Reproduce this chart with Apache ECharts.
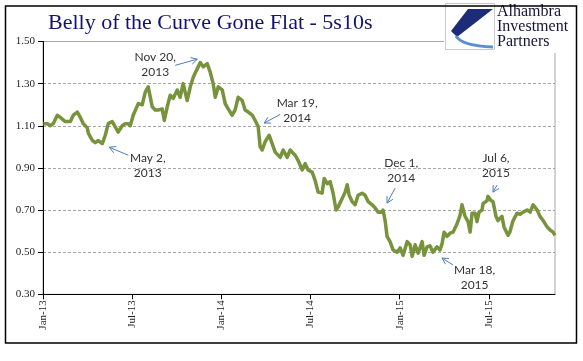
<!DOCTYPE html>
<html>
<head>
<meta charset="utf-8">
<script src="https://cdn.jsdelivr.net/npm/echarts@6/dist/echarts.min.js"></script>
<style>
html,body{margin:0;padding:0;background:#fff;}
#c{width:583px;height:361px;}
</style>
</head>
<body>
<div id="c"></div>
<script>
// x positions: months elapsed since 1 Jan 2013 (fractional)
const monthPos = [0.02,0.29,0.49,0.69,0.96,1.16,1.50,1.84,2.04,2.31,2.51,2.71,2.98,3.05,3.32,3.52,3.72,3.99,4.19,4.39,4.66,4.86,5.06,5.33,5.53,5.73,5.87,6.07,6.41,6.68,6.88,7.08,7.35,7.55,7.75,8.02,8.16,8.36,8.56,8.76,9.03,9.23,9.43,9.70,9.91,10.11,10.24,10.38,10.58,10.78,11.05,11.25,11.45,11.59,11.79,12.06,12.26,12.46,12.73,12.93,13.13,13.40,13.60,13.81,14.08,14.28,14.48,14.61,14.75,14.95,15.22,15.42,15.62,15.96,16.16,16.43,16.63,16.83,16.97,17.17,17.44,17.64,17.84,18.11,18.31,18.51,18.78,18.92,19.12,19.32,19.52,19.72,19.86,20.13,20.33,20.47,20.60,20.80,21.00,21.20,21.47,21.67,21.88,22.15,22.35,22.55,22.82,22.88,23.02,23.15,23.35,23.56,23.83,24.03,24.23,24.50,24.70,24.84,25.04,25.24,25.51,25.64,25.84,26.04,26.24,26.51,26.71,26.85,26.99,27.19,27.39,27.59,27.86,28.06,28.19,28.40,28.60,28.74,28.87,29.07,29.20,29.34,29.54,29.61,29.88,29.94,30.14,30.28,30.48,30.61,30.88,31.02,31.29,31.41,31.63,31.90,32.10,32.30,32.58,32.78,32.98,33.25,33.44,33.65,33.92,34.12,34.32,34.45];
// 5s10s spread values
const spread = [1.11,1.11,1.10,1.11,1.15,1.14,1.12,1.12,1.15,1.165,1.14,1.11,1.09,1.065,1.03,1.02,1.03,1.015,1.055,1.11,1.12,1.095,1.07,1.10,1.11,1.11,1.10,1.15,1.205,1.20,1.26,1.285,1.19,1.175,1.175,1.18,1.125,1.19,1.245,1.23,1.27,1.235,1.30,1.22,1.285,1.33,1.35,1.37,1.40,1.38,1.395,1.355,1.30,1.235,1.285,1.27,1.205,1.18,1.15,1.175,1.235,1.22,1.175,1.165,1.15,1.125,1.095,1.00,0.985,1.025,1.055,1.015,0.975,0.95,0.985,0.95,0.985,0.97,0.96,0.935,0.89,0.92,0.89,0.88,0.84,0.785,0.78,0.85,0.825,0.835,0.78,0.70,0.715,0.755,0.785,0.82,0.77,0.74,0.725,0.77,0.78,0.77,0.74,0.725,0.71,0.69,0.69,0.70,0.65,0.575,0.55,0.51,0.50,0.52,0.485,0.55,0.535,0.48,0.535,0.495,0.55,0.485,0.525,0.53,0.50,0.525,0.51,0.54,0.595,0.575,0.59,0.595,0.635,0.675,0.725,0.67,0.645,0.595,0.685,0.685,0.645,0.69,0.70,0.73,0.745,0.765,0.745,0.74,0.67,0.65,0.67,0.62,0.58,0.595,0.65,0.685,0.68,0.69,0.70,0.69,0.725,0.70,0.67,0.65,0.62,0.605,0.595,0.58];

const xTickPos = [0, 6, 12, 18, 24, 30];
const xTickLabels = ['Jan-13', 'Jul-13', 'Jan-14', 'Jul-14', 'Jan-15', 'Jul-15'];
const yTicks = [0.30, 0.50, 0.70, 0.90, 1.10, 1.30, 1.50];

const titleText = 'Belly of the Curve Gone Flat - 5s10s';
const logoLines = ['Alhambra', 'Investment', 'Partners'];

// annotations: text centre and arrow (from -> to) in data coordinates [month, value]
const annoText = ['Nov 20,\n2013', 'May 2,\n2013', 'Mar 19,\n2014', 'Dec 1,\n2014', 'Jul 6,\n2015', 'Mar 18,\n2015'];
const annoTextPos = [[7.55, 1.389], [7.05, 0.913], [17.10, 1.171], [24.10, 0.887], [30.48, 0.910], [29.04, 0.377]];
const annoArrowFrom = [[8.90, 1.387], [5.74, 0.960], [15.96, 1.154], [23.69, 0.804], [30.55, 0.818], [27.59, 0.439]];
const annoArrowTo = [[10.38, 1.416], [4.46, 0.998], [14.88, 1.113], [23.15, 0.733], [30.28, 0.785], [26.85, 0.472]];

const chart = echarts.init(document.getElementById('c'), null, {renderer: 'canvas'});
const seriesData = monthPos.map((m, i) => [m, spread[i]]);
const serif = '"Liberation Serif", "DejaVu Serif", serif';

chart.setOption({
  animation: false,
  backgroundColor: '#ffffff',
  grid: {left: 43, right: 28, top: 41.5, bottom: 66.7, show: true, borderColor: '#a6a6a6', borderWidth: 1},
  xAxis: {
    type: 'value', min: 0, max: 34.45,
    axisLine: {show: true, onZero: false, lineStyle: {color: '#000', width: 1}},
    axisTick: {show: true, length: 5, customValues: xTickPos, lineStyle: {color: '#000'}},
    splitLine: {show: false},
    axisLabel: {
      customValues: xTickPos, rotate: 90, margin: 6,
      fontFamily: serif, fontSize: 11, color: '#222',
      formatter: v => { const i = xTickPos.indexOf(Math.round(v)); return i >= 0 ? xTickLabels[i] : ''; }
    }
  },
  yAxis: {
    type: 'value', min: 0.3, max: 1.5,
    axisLine: {show: true, lineStyle: {color: '#000', width: 1}},
    axisTick: {show: true, length: 5, customValues: yTicks, lineStyle: {color: '#000'}},
    splitLine: {show: true, lineStyle: {color: '#a6a6a6', type: [3, 2], width: 1}},
    interval: 0.2,
    axisLabel: {
      customValues: yTicks, margin: 8, fontFamily: serif, fontSize: 11, color: '#222',
      formatter: v => v.toFixed(2)
    }
  },
  series: [{
    type: 'line', data: seriesData, showSymbol: false, symbol: 'none',
    lineStyle: {color: '#77933c', width: 3.5, join: 'round'}
  }]
});

// graphics: title, logo, annotations, outer frame
const g = [];
g.push({type: 'rect', shape: {x: 5.5, y: 6, width: 571, height: 337}, style: {fill: null, stroke: '#000', lineWidth: 1.5}, z: 100, silent: true});
g.push({type: 'text', left: 48, top: 12, style: {text: titleText, font: '22px ' + serif, fill: '#14146e'}, z: 100});

// logo box
g.push({type: 'rect', shape: {x: 444, y: 1, width: 134, height: 52}, style: {fill: '#fff', stroke: null}, z: 90});
g.push({type: 'rect', shape: {x: 445.5, y: 3.5, width: 49, height: 46}, style: {fill: '#fff', stroke: '#c8c8c8', lineWidth: 1}, z: 91});
g.push({type: 'polygon', shape: {points: [[468, 9], [493, 9], [457, 37], [451, 31]]}, style: {fill: '#1c2c78'}, z: 92});
g.push({type: 'bezierCurve', shape: {x1: 456, y1: 36, x2: 493, y2: 47, cpx1: 462, cpy1: 46}, style: {stroke: '#5b8fd0', lineWidth: 3, fill: null}, z: 92});
logoLines.forEach((t, i) => {
  g.push({type: 'text', left: 497, top: 4 + i * 15, style: {text: t, font: '16px ' + serif, fill: '#14143c'}, z: 93});
});

function px(p) { return chart.convertToPixel({gridIndex: 0}, p); }
annoText.forEach((t, i) => {
  const c = px(annoTextPos[i]);
  g.push({type: 'text', x: c[0], y: c[1], style: {text: t, font: '12px Lato, "Open Sans", sans-serif', fill: '#333', align: 'center', verticalAlign: 'middle', lineHeight: 15}, z: 80});
  const a = px(annoArrowFrom[i]), b = px(annoArrowTo[i]);
  const ang = Math.atan2(b[1] - a[1], b[0] - a[0]);
  const L = 7, sp = 0.5;
  const h1 = [b[0] - L * Math.cos(ang - sp), b[1] - L * Math.sin(ang - sp)];
  const h2 = [b[0] - L * Math.cos(ang + sp), b[1] - L * Math.sin(ang + sp)];
  g.push({type: 'line', shape: {x1: a[0], y1: a[1], x2: b[0], y2: b[1]}, style: {stroke: '#4a7ebb', lineWidth: 1}, z: 80});
  g.push({type: 'polyline', shape: {points: [h1, b, h2]}, style: {stroke: '#4a7ebb', lineWidth: 1, fill: null}, z: 80});
});

chart.setOption({graphic: g});
</script>
</body>
</html>
